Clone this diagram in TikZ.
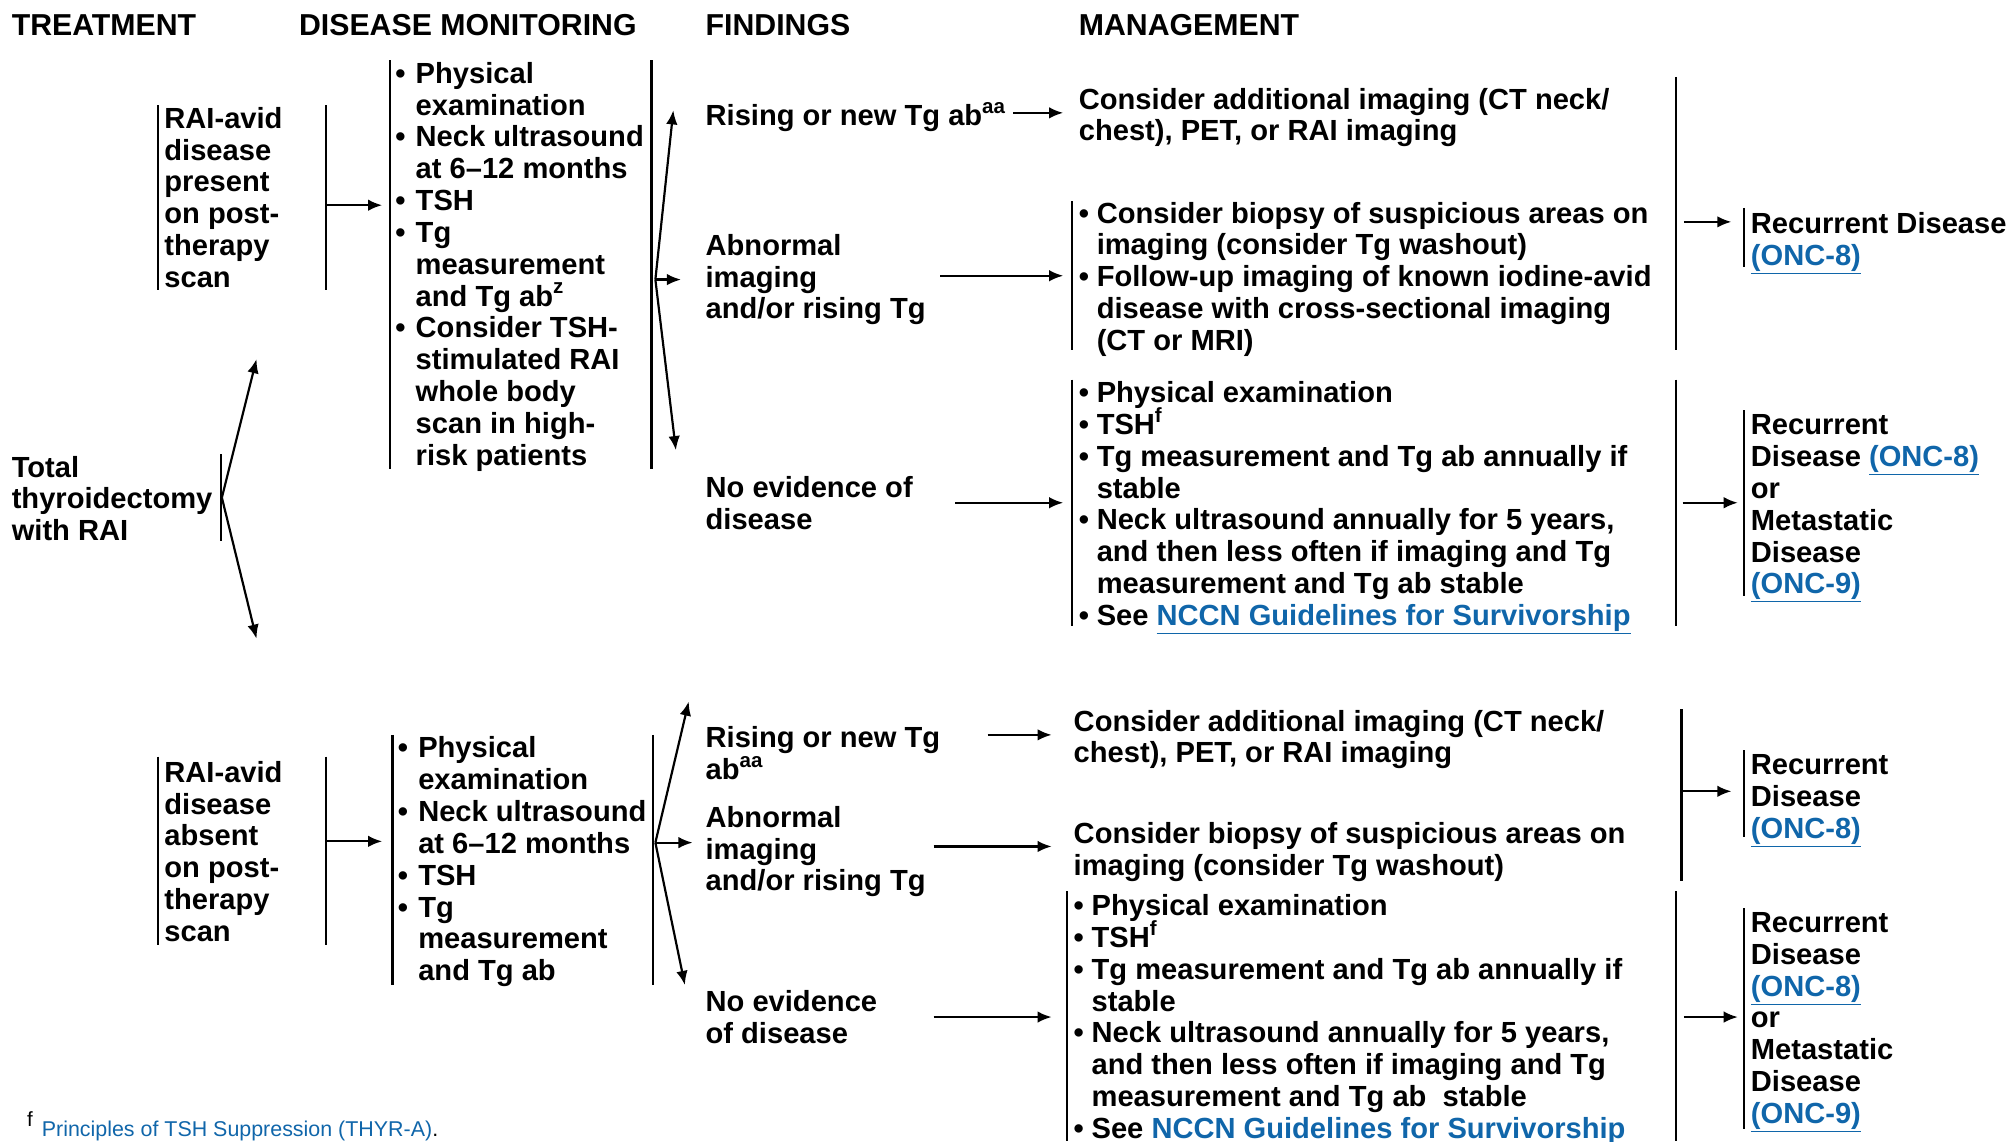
\documentclass[tikz,border=0pt]{standalone}
\usepackage{fontspec}
\setmainfont{Liberation Sans}
\usetikzlibrary{arrows.meta}
\definecolor{linkblue}{RGB}{16,102,170}
\newcommand\bodyfont{\fontsize{22.7}{24.8}\selectfont\bfseries}
\newcommand\hdfont{\fontsize{23.6}{26}\selectfont\bfseries}
\newcommand\sups[1]{\smash{\raisebox{0.42em}{\fontsize{16}{16}\selectfont #1}}}
\newcommand\lnk[1]{\smash{\textcolor{linkblue}{\underline{#1}}}}
\newcommand\blk[1]{\begin{tabular}[t]{@{}l@{}}#1\end{tabular}}
\newcommand\blist[2]{\begin{tabular}[t]{@{}l@{\hspace{#1}}l@{}}#2\end{tabular}}
\begin{document}
\begin{tikzpicture}[x=1pt,y=-1pt,
  txt/.style={anchor=base west, inner sep=0pt, font=\bodyfont},
  hd/.style={anchor=base west, inner sep=0pt, font=\hdfont},
  bar/.style={line width=1.7pt},
  arr/.style={line width=1.7pt, -{Latex[length=11pt,width=9pt]}}]
\useasboundingbox (0,0) rectangle (1568,890);

% column headings
\node[hd] (hT) at (9,28) {TREATMENT};
\node[hd] (hD) at (233,28) {DISEASE MONITORING};
\node[hd] (hF) at (550,28) {FINDINGS};
\node[hd] (hM) at (841,28) {MANAGEMENT};

% treatment
\node[txt] (tt) at (9,372) {\blk{Total\\thyroidectomy\\with RAI}};
\draw[bar] (172,354) -- (172,422);
\coordinate (ttb) at (173,388);
\coordinate (ttu) at (200,280);
\coordinate (ttd) at (200,498);
\draw[arr] (ttb) -- (ttu);
\draw[arr] (ttb) -- (ttd);

% ---------------- upper branch: RAI-avid disease present
\node[txt] (rp) at (128,100) {\blk{RAI-avid\\disease\\present\\on post-\\therapy\\scan}};
\draw[bar] (123,82) -- (123,226);
\draw[bar] (254,82) -- (254,226);
\coordinate (rpo) at (254,160);
\coordinate (dm1i) at (298,160);
\draw[arr] (rpo) -- (dm1i);

\node[txt] (dm1) at (308,65) {\blist{8pt}{•&Physical\\&examination\\•&Neck ultrasound\\&at 6–12 months\\•&TSH\\•&Tg\\&measurement\\&and Tg ab\sups{z}\\•&Consider TSH-\\&stimulated RAI\\&whole body\\&scan in high-\\&risk patients}};
\draw[bar] (304,47) -- (304,366);
\draw[bar] (508,47) -- (508,366);

\coordinate (fan1) at (511,218);
\coordinate (fan1u) at (525,86);
\coordinate (fan1m) at (531,218);
\coordinate (fan1d) at (527,351);
\draw[arr] (fan1) -- (fan1u);
\draw[arr] (fan1) -- (fan1m);
\draw[arr] (fan1) -- (fan1d);

\node[txt] (f1) at (550,98) {Rising or new Tg ab\sups{aa}};
\node[txt] (f2) at (550,199) {\blk{Abnormal\\imaging\\and/or rising Tg}};
\node[txt] (f3) at (550,388) {\blk{No evidence of\\disease}};

\coordinate (f1o) at (790,88);  \coordinate (m1i) at (829,88);
\coordinate (f2o) at (733,215); \coordinate (m2i) at (829,215);
\coordinate (f3o) at (745,392); \coordinate (m3i) at (829,392);
\draw[arr] (f1o) -- (m1i);
\draw[arr] (f2o) -- (m2i);
\draw[arr] (f3o) -- (m3i);

\node[txt] (m1) at (841,85) {\blk{Consider additional imaging (CT neck/\\chest), PET, or RAI imaging}};
\node[txt] (m2) at (841,174) {\blist{6pt}{•&Consider biopsy of suspicious areas on\\&imaging (consider Tg washout)\\•&Follow-up imaging of known iodine-avid\\&disease with cross-sectional imaging\\&(CT or MRI)}};
\draw[bar] (836,157) -- (836,273);
\node[txt] (m3) at (841,314) {\blist{6pt}{•&Physical examination\\•&TSH\sups{f}\\•&Tg measurement and Tg ab annually if\\&stable\\•&Neck ultrasound annually for 5 years,\\&and then less often if imaging and Tg\\&measurement and Tg ab stable\\•&See \lnk{NCCN Guidelines for Survivorship}}};
\draw[bar] (836,296) -- (836,488);

\draw[bar] (1307,60) -- (1307,273);
\draw[bar] (1307,296) -- (1307,488);
\coordinate (mo1) at (1313,173); \coordinate (o1i) at (1350,173);
\coordinate (mo2) at (1312,392); \coordinate (o2i) at (1355,392);
\draw[arr] (mo1) -- (o1i);
\draw[arr] (mo2) -- (o2i);

\draw[bar] (1360,162) -- (1360,208);
\node[txt] (o1) at (1365,182) {\blk{Recurrent Disease\\\lnk{(ONC-8)}}};
\draw[bar] (1360,320) -- (1360,465);
\node[txt] (o2) at (1365,339) {\blk{Recurrent\\Disease \lnk{(ONC-8)}\\or\\Metastatic\\Disease\\\lnk{(ONC-9)}}};

% ---------------- lower branch: RAI-avid disease absent
\node[txt] (ra) at (128,610) {\blk{RAI-avid\\disease\\absent\\on post-\\therapy\\scan}};
\draw[bar] (123,590) -- (123,737);
\draw[bar] (254,590) -- (254,737);
\coordinate (rao) at (254,656);
\coordinate (dm2i) at (298,656);
\draw[arr] (rao) -- (dm2i);

\node[txt] (dm2) at (310,591) {\blist{8pt}{•&Physical\\&examination\\•&Neck ultrasound\\&at 6–12 months\\•&TSH\\•&Tg\\&measurement\\&and Tg ab}};
\draw[bar] (306,573) -- (306,768);
\draw[bar] (509,573) -- (509,768);

\coordinate (fan2) at (511,657);
\coordinate (fan2u) at (537,547);
\coordinate (fan2m) at (540,657);
\coordinate (fan2d) at (534,768);
\draw[arr] (fan2) -- (fan2u);
\draw[arr] (fan2) -- (fan2m);
\draw[arr] (fan2) -- (fan2d);

\node[txt] (g1) at (550,583) {\blk{Rising or new Tg\\ab\sups{aa}}};
\node[txt] (g2) at (550,645) {\blk{Abnormal\\imaging\\and/or rising Tg}};
\node[txt] (g3) at (550,789) {\blk{No evidence\\of disease}};

\coordinate (g1o) at (770,573); \coordinate (n1i) at (820,573);
\coordinate (g2o) at (728,660); \coordinate (n2i) at (820,660);
\coordinate (g3o) at (728,793); \coordinate (n3i) at (820,793);
\draw[arr] (g1o) -- (n1i);
\draw[arr] (g2o) -- (n2i);
\draw[arr] (g3o) -- (n3i);

\node[txt] (n1) at (837,570) {\blk{Consider additional imaging (CT neck/\\chest), PET, or RAI imaging}};
\node[txt] (n2) at (837,658) {\blk{Consider biopsy of suspicious areas on\\imaging (consider Tg washout)}};
\draw[bar] (1311,553) -- (1311,687);
\coordinate (no1) at (1312,617); \coordinate (p1i) at (1350,617);
\draw[arr] (no1) -- (p1i);
\draw[bar] (1360,585) -- (1360,653);
\node[txt] (p1) at (1365,604) {\blk{Recurrent\\Disease\\\lnk{(ONC-8)}}};

\node[txt] (n3) at (837,714) {\blist{6pt}{•&Physical examination\\•&TSH\sups{f}\\•&Tg measurement and Tg ab annually if\\&stable\\•&Neck ultrasound annually for 5 years,\\&and then less often if imaging and Tg\\&measurement and Tg ab~ stable\\•&See \lnk{NCCN Guidelines for Survivorship}}};
\draw[bar] (832,695) -- (832,890);
\draw[bar] (1307,695) -- (1307,890);
\coordinate (no2) at (1313,793); \coordinate (p2i) at (1355,793);
\draw[arr] (no2) -- (p2i);
\draw[bar] (1360,708) -- (1360,880);
\node[txt] (p2) at (1365,727) {\blk{Recurrent\\Disease\\\lnk{(ONC-8)}\\or\\Metastatic\\Disease\\\lnk{(ONC-9)}}};

% footnote
\node[anchor=base west, inner sep=0pt, font=\fontsize{16.7}{18}\selectfont] (fn) at (21,886)
  {\raisebox{0.45em}{\fontsize{16}{16}\selectfont f}\hspace{7pt}\lnk{Principles of TSH Suppression (THYR-A)}.};
\end{tikzpicture}
\end{document}
